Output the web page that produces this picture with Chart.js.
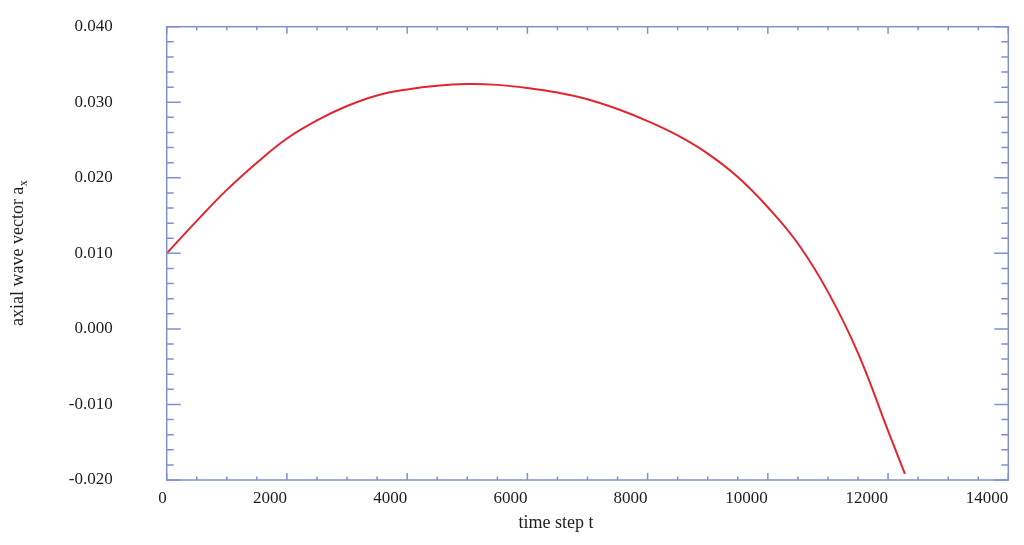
<!DOCTYPE html>
<html>
<head>
<meta charset="utf-8">
<script src="https://cdn.jsdelivr.net/npm/chart.js@4"></script>
<style>
  html, body { margin: 0; padding: 0; background: #fff; }
  #wrap { width: 1024px; height: 545px; }
</style>
</head>
<body>
<div id="wrap"><canvas id="c" width="1024" height="545"></canvas></div>
<script>
// values
const timeSteps = [0, 500, 1000, 1500, 2000, 2500, 3000, 3500, 4000, 4500, 5000, 5500, 6000,
  6500, 7000, 7500, 8000, 8500, 9000, 9500, 10000, 10500, 11000, 11500, 12000, 12280];
const axialWave = [0.0100, 0.0143, 0.0184, 0.0220, 0.0252, 0.0276, 0.0295, 0.0309, 0.0317, 0.0322,
  0.0324, 0.0323, 0.0319, 0.0313, 0.0304, 0.0291, 0.0275, 0.0256, 0.0232, 0.0201, 0.0161,
  0.0113, 0.0049, -0.0032, -0.0135, -0.0192];

const xMajor = [0, 2000, 4000, 6000, 8000, 10000, 12000, 14000];
const xMinorStep = 500;
const yMajor = [-0.020, -0.010, 0.000, 0.010, 0.020, 0.030, 0.040];
const yMinorStep = 0.002;

const FRAME = '#8091cf';
const TEXT = '#1e1e1e';
const SERIF = "'Liberation Serif', 'Times New Roman', serif";

// box with inward ticks on all four sides, plus axis titles
const framePlugin = {
  id: 'frame',
  afterDraw(chart) {
    const { ctx, chartArea: a, scales: { x, y } } = chart;
    ctx.save();
    ctx.strokeStyle = FRAME;
    ctx.lineWidth = 1.5;
    ctx.strokeRect(a.left, a.top, a.right - a.left, a.bottom - a.top);

    ctx.beginPath();
    for (let v = x.min; v <= x.max + 1e-9; v += xMinorStep) {
      const px = x.getPixelForValue(v);
      const len = xMajor.includes(Math.round(v)) ? 7 : 3.5;
      ctx.moveTo(px, a.bottom); ctx.lineTo(px, a.bottom - len);
      ctx.moveTo(px, a.top); ctx.lineTo(px, a.top + len);
    }
    const nY = Math.round((y.max - y.min) / yMinorStep);
    for (let i = 0; i <= nY; i++) {
      const v = y.min + i * yMinorStep;
      const py = y.getPixelForValue(v);
      const len = i % 5 === 0 ? 14 : 7;
      ctx.moveTo(a.left, py); ctx.lineTo(a.left + len, py);
      ctx.moveTo(a.right, py); ctx.lineTo(a.right - len, py);
    }
    ctx.stroke();

    ctx.fillStyle = TEXT;
    ctx.textBaseline = 'middle';
    ctx.textAlign = 'center';
    ctx.font = '18px ' + SERIF;
    ctx.fillText('time step t', 556, 523);

    // rotated y title with subscript x
    ctx.translate(17, (a.top + a.bottom) / 2);
    ctx.rotate(-Math.PI / 2);
    ctx.textAlign = 'left';
    ctx.textBaseline = 'alphabetic';
    const main = 'axial wave vector a';
    ctx.font = '18px ' + SERIF;
    const w = ctx.measureText(main).width;
    ctx.font = '12px ' + SERIF;
    const ws = ctx.measureText('x').width;
    const x0 = -(w + ws) / 2;
    ctx.font = '18px ' + SERIF;
    ctx.fillText(main, x0, 6);
    ctx.font = '12px ' + SERIF;
    ctx.fillText('x', x0 + w + 0.5, 10);
    ctx.restore();
  }
};

new Chart(document.getElementById('c'), {
  type: 'line',
  data: {
    datasets: [{
      label: 'a_x',
      data: timeSteps.map((t, i) => ({ x: t, y: axialWave[i] })),
      borderColor: '#e3262d',
      borderWidth: 2,
      pointRadius: 0,
      fill: false,
      tension: 0.4
    }]
  },
  options: {
    responsive: false,
    animation: false,
    devicePixelRatio: 1,
    layout: { padding: { left: 0, top: 26.7, right: 15.7, bottom: 0 } },
    plugins: { legend: { display: false }, tooltip: { enabled: false } },
    scales: {
      x: {
        type: 'linear',
        min: 0, max: 14000,
        afterFit: s => { s.height = 65; s.paddingLeft = 0; s.paddingRight = 0; },
        afterBuildTicks: s => { s.ticks = xMajor.map(v => ({ value: v })); },
        grid: { display: false, drawTicks: false },
        border: { display: false },
        ticks: {
          align: 'end',
          padding: 8,
          color: TEXT,
          font: { family: SERIF, size: 17 },
          maxRotation: 0,
          callback: v => String(v)
        }
      },
      y: {
        min: -0.02, max: 0.04,
        afterFit: s => { s.width = 166.7; s.paddingTop = 0; s.paddingBottom = 0; },
        afterBuildTicks: s => { s.ticks = yMajor.map(v => ({ value: v })); },
        grid: { display: false, drawTicks: false },
        border: { display: false },
        ticks: {
          padding: 54,
          color: TEXT,
          font: { family: SERIF, size: 17 },
          callback: v => v.toFixed(3)
        }
      }
    }
  },
  plugins: [framePlugin]
});
</script>
</body>
</html>
